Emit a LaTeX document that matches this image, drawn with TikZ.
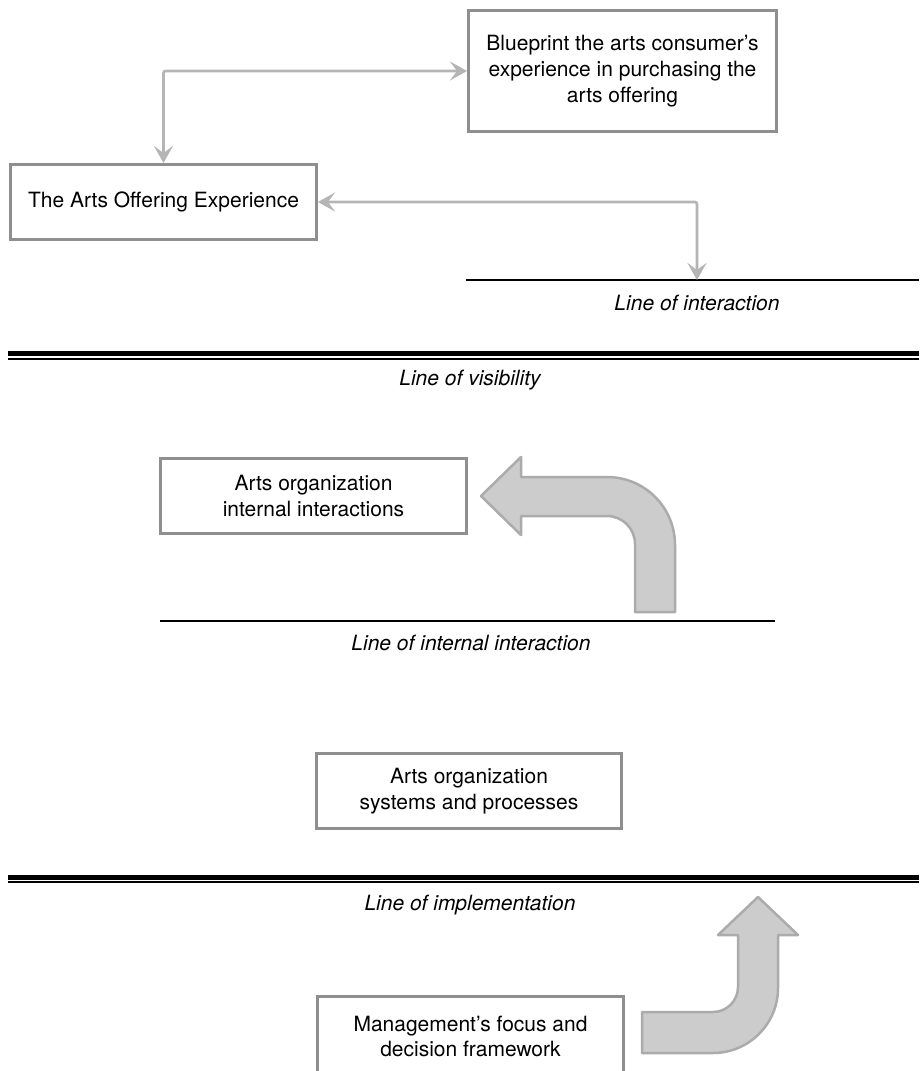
\documentclass[tikz,border=0pt]{standalone}
\usepackage{fontspec}
\setmainfont{TeX Gyre Heros}
\usetikzlibrary{arrows.meta}
\definecolor{boxgray}{HTML}{8F8F8F}
\definecolor{linkgray}{HTML}{B5B5B5}
\definecolor{bendfill}{HTML}{CCCCCC}
\definecolor{bendline}{HTML}{ABABAB}
\begin{document}
\begin{tikzpicture}[x=1pt,y=-1pt,
  stagebox/.style={draw=boxgray, line width=3pt, fill=white, inner sep=0pt,
    align=center, font=\fontsize{21}{25.7}\selectfont},
  link/.style={draw=linkgray, line width=2.7pt, rounded corners=2pt,
    {Stealth[length=17pt,width=19pt,inset=7pt]}-{Stealth[length=17pt,width=19pt,inset=7pt]}},
  divider/.style={line width=1.6pt},
  heavyrule/.style={line width=5pt},
  lightrule/.style={line width=2pt},
  linelabel/.style={font=\fontsize{21}{25}\selectfont\itshape, inner sep=0pt},
  bentarrow/.style={fill=bendfill, draw=bendline, line width=2.5pt, line join=round}]
\useasboundingbox (0,0) rectangle (919,1071);
\clip (0,0) rectangle (919,1071);

% --- front stage -------------------------------------------------------
\node[stagebox, minimum width=308pt, minimum height=121pt] (bp) at (622.5,71)
  {Blueprint the arts consumer’s\\experience in purchasing the\\arts offering};
\node[stagebox, minimum width=306pt, minimum height=75pt] (aoe) at (163.5,202)
  {The Arts Offering Experience};

% line of interaction
\coordinate (li-l) at (466,280);
\coordinate (li-r) at (919,280);
\coordinate (ioi) at (697,280);
\draw[divider] (li-l) -- (li-r);
\node[linelabel] (li-t) at (697,303) {Line of interaction};

\draw[link] (aoe.north) |- (bp.west);
\draw[link] (aoe.east) -| (ioi);

% line of visibility (double rule)
\coordinate (lv-l) at (8,353.5);
\coordinate (lv-r) at (919,353.5);
\coordinate (lv2-l) at (8,359);
\coordinate (lv2-r) at (919,359);
\draw[heavyrule] (lv-l) -- (lv-r);
\draw[lightrule] (lv2-l) -- (lv2-r);
\node[linelabel] (lv-t) at (470,380) {Line of visibility};

% --- back stage --------------------------------------------------------
\node[stagebox, minimum width=306pt, minimum height=75pt] (aii) at (313.5,496)
  {Arts organization\\internal interactions};

% bent arrow pointing left, rising from the internal interaction line
\draw[bentarrow] (481,496) -- (521,457) -- (521,477) -- (607,477)
  .. controls (644.6,477) and (675,507.4) .. (675,545)
  -- (675,612) -- (635,612) -- (635,544)
  .. controls (635,528.5) and (622.5,516) .. (607,516)
  -- (521,516) -- (521,535) -- cycle;

% line of internal interaction
\coordinate (lii-l) at (160,621);
\coordinate (lii-r) at (775,621);
\draw[divider] (lii-l) -- (lii-r);
\node[linelabel] (lii-t) at (471,643) {Line of internal interaction};

\node[stagebox, minimum width=305pt, minimum height=75pt] (aosp) at (469,791)
  {Arts organization\\systems and processes};

% line of implementation (double rule)
\coordinate (lm-l) at (8,877);
\coordinate (lm-r) at (919,877);
\coordinate (lm2-l) at (8,882);
\coordinate (lm2-r) at (919,882);
\draw[heavyrule] (lm-l) -- (lm-r);
\draw[lightrule] (lm2-l) -- (lm2-r);
\node[linelabel] (lm-t) at (470,905) {Line of implementation};

\node[stagebox, minimum width=306pt, minimum height=80pt] (mgmt) at (470.5,1036.5)
  {Management’s focus and\\decision framework};

% bent arrow pointing up, from the management frame
\draw[bentarrow] (758,897) -- (798,935) -- (778,935) -- (778,988)
  .. controls (778,1023.9) and (748.9,1053) .. (713,1053)
  -- (642,1053) -- (642,1012) -- (713,1012)
  .. controls (726.8,1012) and (738,1000.8) .. (738,987)
  -- (738,935) -- (718,935) -- cycle;
\end{tikzpicture}
\end{document}
